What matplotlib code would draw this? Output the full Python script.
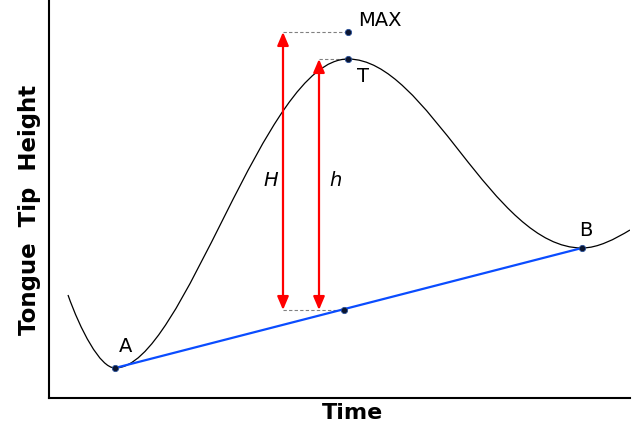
import matplotlib
matplotlib.use('Agg')
import matplotlib.pyplot as plt
from matplotlib.path import Path
from matplotlib.patches import PathPatch

# anchor points of the curve (x, height)
pt_start = (68, 133)
pt_A = (115, 60)
pt_T = (348, 369)
pt_B = (582, 180)
pt_end = (630, 198)
pt_MAX = (348, 396)
pt_M = (344, 118)     # point on A-B line below T
x_H, x_h = 283, 319

# bezier handles between anchors
handles = [((80, 99), (100, 60)),
           ((185, 60), (263, 369)),
           ((428, 369), (492, 180)),
           ((598, 180), (615, 189))]

fig = plt.figure(figsize=(6.35, 4.28), dpi=100)
ax = fig.add_axes([49/635, 30/428, 581/635, 398/428])
ax.set_xlim(49, 630)
ax.set_ylim(30, 428)
ax.set_xticks([])
ax.set_yticks([])
ax.spines['top'].set_visible(False)
ax.spines['right'].set_visible(False)
for s in ('left', 'bottom'):
    ax.spines[s].set_linewidth(1.5)

anchors = [pt_start, pt_A, pt_T, pt_B, pt_end]
verts = [anchors[0]]
codes = [Path.MOVETO]
for (c1, c2), p in zip(handles, anchors[1:]):
    verts += [c1, c2, p]
    codes += [Path.CURVE4] * 3
ax.add_patch(PathPatch(Path(verts, codes), facecolor='none', edgecolor='black', lw=0.9, zorder=2))

ax.plot([pt_A[0], pt_B[0]], [pt_A[1], pt_B[1]], color='#0a4cff', lw=1.6, zorder=3)

# dashed guide lines
dash = dict(color='#808080', lw=0.8, ls=(0, (3, 2)), zorder=1)
ax.plot([x_H, pt_MAX[0]], [pt_MAX[1], pt_MAX[1]], **dash)
ax.plot([x_h, pt_T[0]], [pt_T[1], pt_T[1]], **dash)
ax.plot([x_H, pt_M[0]], [pt_M[1], pt_M[1]], **dash)

# red double arrows
arr = dict(arrowstyle='<|-|>,head_length=0.4,head_width=0.17', color='#ff0000', lw=1.6,
           mutation_scale=20, shrinkA=0, shrinkB=0)
ax.annotate('', xy=(x_H, pt_MAX[1]), xytext=(x_H, pt_M[1]), arrowprops=arr, zorder=4)
ax.annotate('', xy=(x_h, pt_T[1]), xytext=(x_h, pt_M[1]), arrowprops=arr, zorder=4)

px = [pt_A[0], pt_B[0], pt_T[0], pt_MAX[0], pt_M[0]]
py = [pt_A[1], pt_B[1], pt_T[1], pt_MAX[1], pt_M[1]]
ax.plot(px, py, 'o', ms=4.5, color='#0b1530', mec='#28509a', mew=0.6, zorder=5)

fs = 14
ax.text(358, 407, 'MAX', fontsize=fs, ha='left', va='center')
ax.text(363, 351, 'T', fontsize=fs, ha='center', va='center')
ax.text(126, 81, 'A', fontsize=fs, ha='center', va='center')
ax.text(586, 197, 'B', fontsize=fs, ha='center', va='center')
ax.text(271, 247, 'H', fontsize=fs, style='italic', ha='center', va='center')
ax.text(335, 247, 'h', fontsize=fs, style='italic', ha='center', va='center')

fig.text(30/635, 1 - 210/428, 'Tongue  Tip  Height', fontsize=16.5, fontweight='bold',
         rotation=90, ha='center', va='center')
fig.text(352/635, 1 - 413/428, 'Time', fontsize=16, fontweight='bold', ha='center', va='center')

fig.savefig('out.png', dpi=100)
